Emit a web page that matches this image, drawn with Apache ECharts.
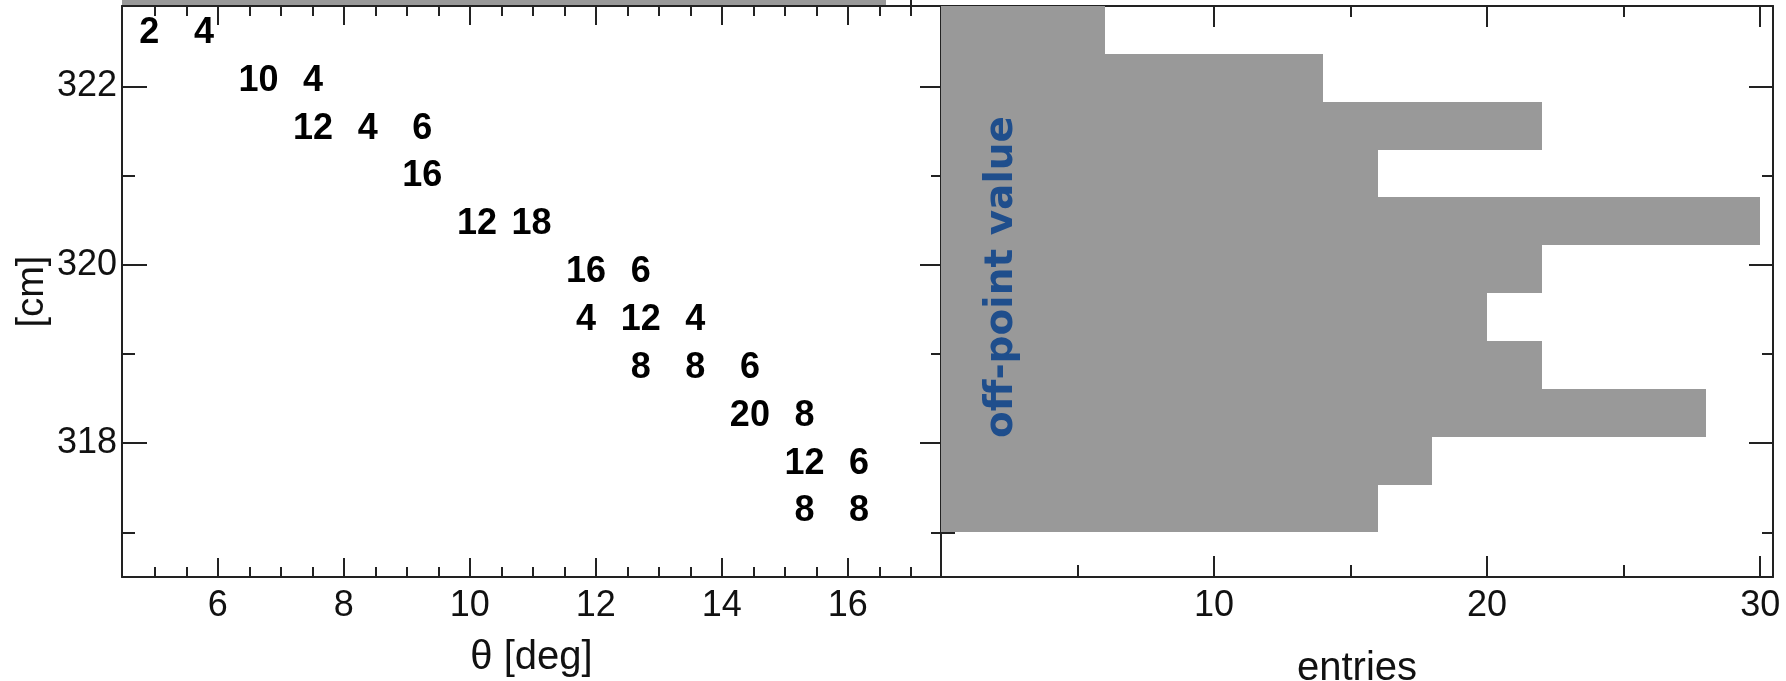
<!DOCTYPE html>
<html>
<head>
<meta charset="utf-8">
<script src="https://cdn.jsdelivr.net/npm/echarts@6/dist/echarts.min.js"></script>
<style>
html,body{margin:0;padding:0;background:#ffffff;}
#chart{width:1786px;height:681px;}
</style>
</head>
<body>
<div id="chart"></div>
<script>
// ---------------- data ----------------
// theta bins (deg) and radius bins (cm)
const thetaRange = [4.48, 17.48];
const thetaBinEdges = [4.48, 5.347, 6.213, 7.08, 7.947, 8.813, 9.68, 10.547, 11.413, 12.28, 13.147, 14.013, 14.88, 15.747, 16.613, 17.48];
const rRange = [316.5, 322.9];
const rBinEdges = [317.0, 317.536, 318.073, 318.609, 319.145, 319.682, 320.218, 320.755, 321.291, 321.827, 322.364, 322.9];
const entriesRange = [0, 30.47];
const stripRange = [0, 30];

// 2D histogram cells (bin indices, counts)
const cellThetaBin = [0, 1, 2, 3, 3, 4, 5, 5, 6, 7, 8, 9, 8, 9, 10, 9, 10, 11, 11, 12, 12, 13, 12, 13];
const cellRBin     = [10, 10, 9, 9, 8, 8, 8, 7, 6, 6, 5, 5, 4, 4, 4, 3, 3, 3, 2, 2, 1, 1, 0, 0];
const cellCount    = [2, 4, 10, 4, 12, 4, 6, 16, 12, 18, 16, 6, 4, 12, 4, 8, 8, 6, 20, 8, 12, 6, 8, 8];

// projections
const entriesPerRBin = [16, 18, 28, 22, 20, 22, 30, 16, 22, 14, 6];
const entriesPerThetaBin = [2, 4, 10, 16, 4, 22, 12, 18, 20, 26, 12, 26, 28, 14, 0];

// ticks
const thetaTicks = [6, 8, 10, 12, 14, 16];
const thetaMinorTicks = [5, 5.5, 6.5, 7, 7.5, 8.5, 9, 9.5, 10.5, 11, 11.5, 12.5, 13, 13.5, 14.5, 15, 15.5, 16.5, 17];
const thetaAllTicks = [5, 5.5, 6, 6.5, 7, 7.5, 8, 8.5, 9, 9.5, 10, 10.5, 11, 11.5, 12, 12.5, 13, 13.5, 14, 14.5, 15, 15.5, 16, 16.5, 17];
const rTicks = [318, 320, 322];
const rMinorTicks = [317, 319, 321];
const entriesTicks = [10, 20, 30];
const entriesMinorTicks = [5, 15, 25];

// texts
const xTitle = 'θ [deg]';
const yTitle = '[cm]';
const entriesTitle = 'entries';
const noteText = 'off-point value';

// ---------------- build ----------------
const AX = '#222222';
const FONT = '"Liberation Sans", Arial, sans-serif';

const textData = cellCount.map((c, i) => [
  (thetaBinEdges[cellThetaBin[i]] + thetaBinEdges[cellThetaBin[i] + 1]) / 2,
  (rBinEdges[cellRBin[i]] + rBinEdges[cellRBin[i] + 1]) / 2,
  c
]);
const rHistData = entriesPerRBin.map((v, i) => [rBinEdges[i], rBinEdges[i + 1], v]);
const thetaHistData = entriesPerThetaBin.map((v, i) => [thetaBinEdges[i], thetaBinEdges[i + 1], v]);

function axis(o) {
  const a = {
    type: 'value',
    gridIndex: o.grid,
    position: o.pos,
    min: o.range[0],
    max: o.range[1],
    splitLine: { show: false },
    axisLine: { show: !!o.line, onZero: false, lineStyle: { color: AX, width: 2 } },
    axisTick: {
      show: true, inside: true, length: o.len,
      customValues: o.ticks,
      lineStyle: { color: AX, width: 2 }
    },
    axisLabel: o.labels ? Object.assign({
      show: true, customValues: o.labels,
      fontSize: 36, fontFamily: FONT, color: '#111'
    }, o.labelExtra || {}) : { show: false },
    z: o.z || 0
  };
  if (o.name) {
    a.name = o.name;
    a.nameLocation = 'middle';
    a.nameGap = o.nameGap;
    a.nameRotate = o.nameRotate;
    a.nameTextStyle = { fontSize: o.nameSize || 40, fontFamily: FONT, color: '#111' };
  }
  return a;
}

const xAxes = [
  axis({ grid: 0, pos: 'bottom', range: thetaRange, line: true, len: 19, ticks: thetaTicks, labels: thetaTicks, labelExtra: { margin: 11 }, name: xTitle, nameGap: 61 }),
  axis({ grid: 0, pos: 'bottom', range: thetaRange, len: 10, ticks: thetaMinorTicks }),
  axis({ grid: 0, pos: 'top', range: thetaRange, line: true, len: 19, ticks: thetaTicks }),
  axis({ grid: 0, pos: 'top', range: thetaRange, len: 10, ticks: thetaMinorTicks }),
  axis({ grid: 1, pos: 'bottom', range: entriesRange, line: true, len: 21, ticks: entriesTicks, labels: entriesTicks, labelExtra: { margin: 11 }, name: entriesTitle, nameGap: 72 }),
  axis({ grid: 1, pos: 'bottom', range: entriesRange, len: 12, ticks: entriesMinorTicks }),
  axis({ grid: 1, pos: 'top', range: entriesRange, line: true, len: 21, ticks: entriesTicks }),
  axis({ grid: 1, pos: 'top', range: entriesRange, len: 11, ticks: entriesMinorTicks }),
  axis({ grid: 2, pos: 'bottom', range: thetaRange, len: 8, ticks: thetaAllTicks })
];
const yAxes = [
  axis({ grid: 0, pos: 'left', range: rRange, line: true, len: 25, ticks: rTicks, labels: rTicks, labelExtra: { margin: 5, padding: [10, 0, 0, 0] }, name: yTitle, nameGap: 70, nameRotate: 90, nameSize: 38 }),
  axis({ grid: 0, pos: 'left', range: rRange, len: 13, ticks: rMinorTicks }),
  axis({ grid: 0, pos: 'right', range: rRange, line: true, len: 21, ticks: rTicks }),
  axis({ grid: 0, pos: 'right', range: rRange, len: 10, ticks: rMinorTicks }),
  axis({ grid: 1, pos: 'left', range: rRange, line: true, len: 24, ticks: rTicks }),
  axis({ grid: 1, pos: 'left', range: rRange, len: 14, ticks: rMinorTicks }),
  axis({ grid: 1, pos: 'right', range: rRange, line: true, len: 24, ticks: rTicks }),
  axis({ grid: 1, pos: 'right', range: rRange, len: 11, ticks: rMinorTicks }),
  { type: 'value', gridIndex: 2, min: stripRange[0], max: stripRange[1], show: false }
];

const chart = echarts.init(document.getElementById('chart'), null, { renderer: 'canvas' });
chart.setOption({
  animation: false,
  backgroundColor: '#ffffff',
  grid: [
    { left: 122, top: 6, width: 819, height: 571, outerBoundsMode: 'none', containLabel: false },
    { left: 941, top: 6, width: 832, height: 571, outerBoundsMode: 'none', containLabel: false },
    { left: 122, top: -100, width: 819, height: 106, outerBoundsMode: 'none', containLabel: false }
  ],
  xAxis: xAxes,
  yAxis: yAxes,
  series: [
    {
      type: 'custom', name: 'cells', xAxisIndex: 0, yAxisIndex: 0, z: 5,
      data: textData,
      encode: { x: 0, y: 1 },
      renderItem: function (params, api) {
        const p = api.coord([api.value(0), api.value(1)]);
        return {
          type: 'text', x: p[0], y: p[1] + 3,
          style: {
            text: String(api.value(2)),
            font: 'bold 36px "Liberation Sans", Arial, sans-serif',
            fill: '#000', align: 'center', verticalAlign: 'middle'
          }
        };
      }
    },
    {
      type: 'custom', name: 'r projection', xAxisIndex: 4, yAxisIndex: 4, z: 3,
      data: rHistData,
      encode: { x: 2, y: [0, 1] },
      renderItem: function (params, api) {
        const a = api.coord([0, api.value(0)]);
        const b = api.coord([api.value(2), api.value(1)]);
        const x0 = Math.round(a[0]), x1 = Math.round(b[0]);
        const yTop = Math.round(b[1]), yBot = Math.round(a[1]);
        return {
          type: 'rect',
          shape: { x: x0, y: yTop, width: x1 - x0, height: yBot - yTop },
          style: { fill: '#999999' }
        };
      }
    },
    {
      type: 'custom', name: 'theta projection', xAxisIndex: 8, yAxisIndex: 8, z: 3,
      data: thetaHistData,
      encode: { x: [0, 1], y: 2 },
      renderItem: function (params, api) {
        if (api.value(2) <= 0) return null;
        const a = api.coord([api.value(0), 0]);
        const b = api.coord([api.value(1), api.value(2)]);
        const x0 = Math.round(a[0]), x1 = Math.round(b[0]);
        const yTop = Math.round(b[1]), yBot = Math.round(a[1]) - 1;
        return {
          type: 'rect',
          shape: { x: x0, y: yTop, width: x1 - x0, height: yBot - yTop },
          style: { fill: '#999999' }
        };
      }
    }
  ],
  graphic: [
    {
      type: 'text', x: 1002, y: 277, rotation: Math.PI / 2, z: 100,
      style: {
        text: noteText,
        font: 'bold 39px "DejaVu Sans", sans-serif',
        fill: '#1f4e8c', align: 'center', verticalAlign: 'middle'
      }
    }
  ]
});
</script>
</body>
</html>
